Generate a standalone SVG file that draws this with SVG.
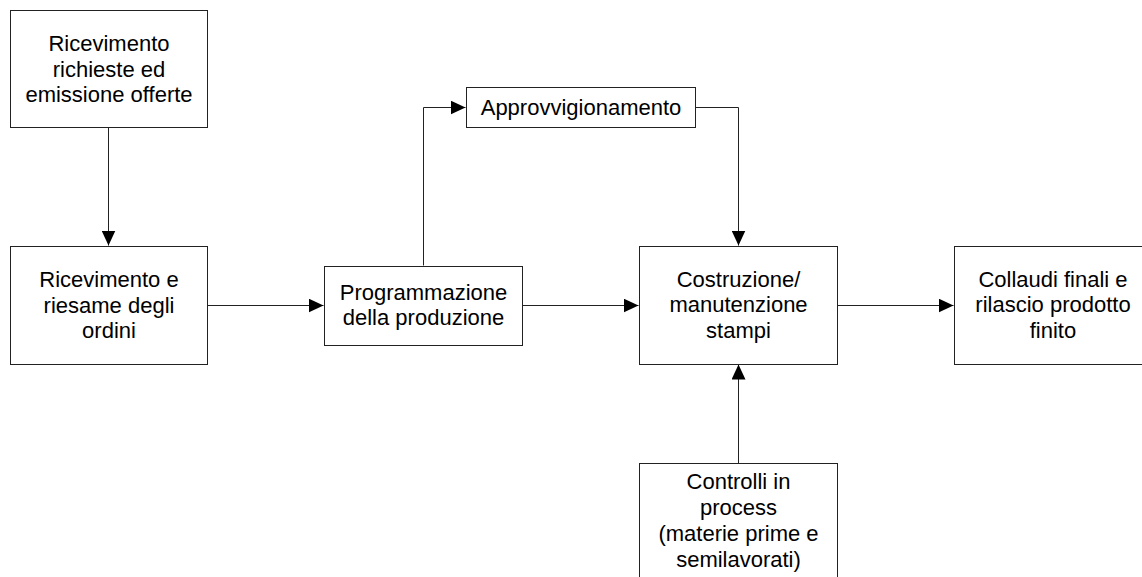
<svg xmlns="http://www.w3.org/2000/svg" width="1142" height="577" viewBox="0 0 1142 577">
<style>
.box{fill:#fff;stroke:#222;stroke-width:1}
.t{font-family:"Liberation Sans",Arial,sans-serif;font-size:22px;fill:#000;text-anchor:middle}
.c{fill:none;stroke:#222;stroke-width:1}
</style>
<defs>
<marker id="ah" markerUnits="userSpaceOnUse" markerWidth="15" markerHeight="14" refX="15" refY="7" orient="auto">
<path d="M0,0 L15,7 L0,14 z" fill="#000"/>
</marker>
</defs>
<rect width="1142" height="577" fill="#fff"/>
<g id="connectors">
<path class="c" d="M108.5,127.5 V245.5" marker-end="url(#ah)"/>
<path class="c" d="M207.5,305.5 H323.5" marker-end="url(#ah)"/>
<path class="c" d="M423.5,265.5 V107.5 H465.5" marker-end="url(#ah)"/>
<path class="c" d="M695.5,107.5 H738.5 V245.5" marker-end="url(#ah)"/>
<path class="c" d="M522.5,305.5 H638.5" marker-end="url(#ah)"/>
<path class="c" d="M837.5,305.5 H953.5" marker-end="url(#ah)"/>
<path class="c" d="M738.5,463.5 V364.5" marker-end="url(#ah)"/>
</g>
<g id="n1">
<rect class="box" x="10.5" y="10.5" width="197" height="117"/>
<text class="t" x="109" y="51">Ricevimento</text>
<text class="t" x="109" y="76.5">richieste ed</text>
<text class="t" x="109" y="102">emissione offerte</text>
</g>
<g id="n2">
<rect class="box" x="10.5" y="246.5" width="197" height="118"/>
<text class="t" x="109" y="287">Ricevimento e</text>
<text class="t" x="109" y="312.5">riesame degli</text>
<text class="t" x="109" y="338">ordini</text>
</g>
<g id="n3">
<rect class="box" x="324.5" y="266.5" width="198" height="79"/>
<text class="t" x="423.5" y="299.5">Programmazione</text>
<text class="t" x="423.5" y="325">della produzione</text>
</g>
<g id="n4">
<rect class="box" x="466.5" y="87.5" width="229" height="40"/>
<text class="t" x="581" y="114.5">Approvvigionamento</text>
</g>
<g id="n5">
<rect class="box" x="639.5" y="246.5" width="198" height="118"/>
<text class="t" x="738.5" y="286.5">Costruzione/</text>
<text class="t" x="738.5" y="312">manutenzione</text>
<text class="t" x="738.5" y="338">stampi</text>
</g>
<g id="n6">
<rect class="box" x="954.5" y="246.5" width="197" height="118"/>
<text class="t" x="1053" y="286.5">Collaudi finali e</text>
<text class="t" x="1053" y="312">rilascio prodotto</text>
<text class="t" x="1053" y="338">finito</text>
</g>
<g id="n7">
<rect class="box" x="639.5" y="463.5" width="198" height="140"/>
<text class="t" x="738.5" y="489">Controlli in</text>
<text class="t" x="738.5" y="514.5">process</text>
<text class="t" x="738.5" y="540.5">(materie prime e</text>
<text class="t" x="738.5" y="566.5">semilavorati)</text>
</g>
</svg>
